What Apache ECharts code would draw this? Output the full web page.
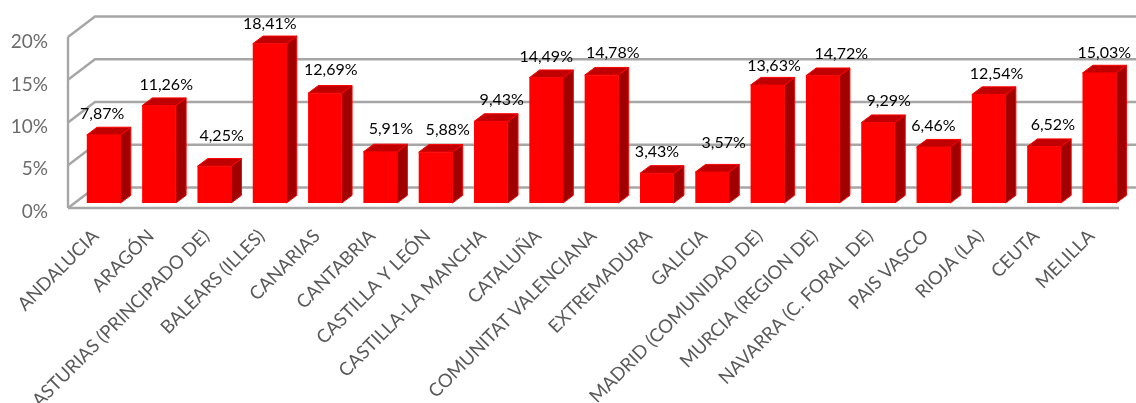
<!DOCTYPE html>
<html><head><meta charset="utf-8">
<style>html,body{margin:0;padding:0;background:#fff}#c{width:1136px;height:403px}</style>
<script src="https://cdn.jsdelivr.net/npm/echarts@6/dist/echarts.min.js"></script>
</head><body><div id="c"></div>
<script>
const categories = ['ANDALUCIA','ARAGÓN','ASTURIAS (PRINCIPADO DE)','BALEARS (ILLES)','CANARIAS','CANTABRIA','CASTILLA Y LEÓN','CASTILLA-LA MANCHA','CATALUÑA','COMUNITAT VALENCIANA','EXTREMADURA','GALICIA','MADRID (COMUNIDAD DE)','MURCIA (REGION DE)','NAVARRA (C. FORAL DE)','PAIS VASCO','RIOJA (LA)','CEUTA','MELILLA'];
const values = [7.87,11.26,4.25,18.41,12.69,5.91,5.88,9.43,14.49,14.78,3.43,3.57,13.63,14.72,9.29,6.46,12.54,6.52,15.03];
const yTicks = [0,5,10,15,20];
// hand-placed data-label nudges, relative to the bar's top centre
const labelNudgeX = [-1.5,7.2,7.3,0.2,5.9,10.6,12.2,10.9,0,11.2,0.2,11.6,6.5,18.5,10.6,0,7.9,8.8,5];
const labelNudgeY = [-20.8,-21,-30.2,-20.3,-23.1,-22.8,-22.1,-21.3,-20.5,-22.3,-21.6,-29.1,-19,-22.2,-21.5,-21.3,-20.4,-22.2,-20.5];

const wallColor = '#a6a6a6', font = 'Lato, Carlito, Calibri, sans-serif';
const wallDX = 27, wallDY = -20.5, barDX = 10.3, barDY = -7.7, barW = 33.7;

const chart = echarts.init(document.getElementById('c'));
chart.setOption({
  animation:false,
  backgroundColor:'#fff',
  grid:[
    {left:68,right:17,top:37,bottom:195,containLabel:false,outerBoundsMode:'none'},
    {left:76,right:9,top:30,bottom:200,containLabel:false,outerBoundsMode:'none'},
    {left:68,right:17,top:42,bottom:191.5,containLabel:false,outerBoundsMode:'none'}
  ],
  xAxis:[
    {type:'category',gridIndex:0,data:categories,axisLine:{show:false},axisTick:{show:false},splitLine:{show:false},
     axisLabel:{interval:0,rotate:45,margin:25,fontFamily:font,fontSize:18.5,color:'#595959'}},
    {type:'category',gridIndex:1,data:categories,show:false},
    {type:'category',gridIndex:2,data:categories,show:false}
  ],
  yAxis:[
    {type:'value',gridIndex:0,min:0,max:20,interval:5,show:false},
    {type:'value',gridIndex:1,min:0,max:20,interval:5,show:false},
    {type:'value',gridIndex:2,min:0,max:20,interval:5,axisLine:{show:false},axisTick:{show:false},splitLine:{show:false},
     axisLabel:{formatter:'{value}%',margin:20,fontFamily:font,fontSize:19,color:'#6b6b6b'}}
  ],
  series:[
    {type:'custom',xAxisIndex:0,yAxisIndex:0,clip:false,silent:true,z:1,
     data:yTicks.map(v=>[0,v]),
     renderItem(params,api){
       const cs=params.coordSys, p=api.coord([0,api.value(1)]), x0=cs.x, y=p[1];
       const st={stroke:wallColor,lineWidth:2.4,fill:null};
       const ch=[
         {type:'polyline',shape:{points:[[x0,y],[x0+wallDX,y+wallDY],[api.getWidth(),y+wallDY]]},style:st}
       ];
       if(api.value(1)===0){
         ch.push({type:'line',shape:{x1:x0,y1:y,x2:x0+cs.width,y2:y},style:st});
         ch.push({type:'line',shape:{x1:x0,y1:y,x2:x0,y2:cs.y},style:st});
       }
       return {type:'group',children:ch};
     }},
    {type:'custom',xAxisIndex:1,yAxisIndex:1,clip:false,silent:true,z:2,
     data:values.map((v,i)=>[i,v]),
     renderItem(params,api){
       const top=api.coord([api.value(0),api.value(1)]), base=api.coord([api.value(0),0]);
       const l=top[0]-barW/2, r=top[0]+barW/2, t=top[1], b=base[1];
       const edge='#ff0000';
       return {type:'group',children:[
         {type:'polygon',shape:{points:[[r,t],[r+barDX,t+barDY],[r+barDX,b+barDY],[r,b]]},style:{fill:'#a00000',stroke:edge,lineWidth:1}},
         {type:'polygon',shape:{points:[[l,t],[l+barDX,t+barDY],[r+barDX,t+barDY],[r,t]]},style:{fill:'#c00000',stroke:edge,lineWidth:1}},
         {type:'rect',shape:{x:l,y:t,width:barW,height:b-t},style:{fill:'#ff0000'}}
       ]};
     }},
    {type:'custom',xAxisIndex:1,yAxisIndex:1,clip:false,silent:true,z:3,
     data:values.map((v,i)=>[i,v]),
     renderItem(params,api){
       const top=api.coord([api.value(0),api.value(1)]), i=params.dataIndex;
       return {type:'text',style:{x:top[0]+labelNudgeX[i],y:top[1]+labelNudgeY[i],text:api.value(1).toFixed(2).replace('.',',')+'%',
         textAlign:'center',textVerticalAlign:'middle',fontFamily:font,fontSize:16,fill:'#000'}};
     }}
  ]
});
</script></body></html>
